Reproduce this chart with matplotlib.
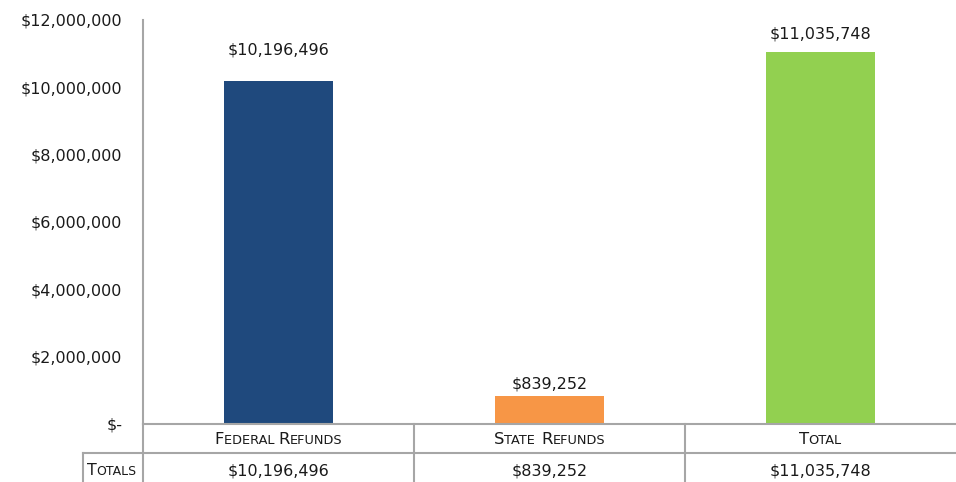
import matplotlib
matplotlib.use('Agg')
import matplotlib.pyplot as plt
from matplotlib.ticker import FuncFormatter
from matplotlib.transforms import blended_transform_factory, offset_copy
from matplotlib.font_manager import findfont, FontProperties
from matplotlib.ft2font import FT2Font
from matplotlib.lines import Line2D

categories = ['Federal Refunds', 'State Refunds', 'Total']
values = [10196496, 839252, 11035748]
colors = ['#1F497D', '#F79646', '#92D050']
label_gap_px = [26, 7, 14]        # gap between bar top and value label
yticks = [0, 2e6, 4e6, 6e6, 8e6, 10e6, 12e6]
row_label = 'Totals'

TXT = '#1a1a1a'
GRID = '#a6a6a6'
FAM = 'DejaVu Sans'

W, H = 956, 482
fig = plt.figure(figsize=(W / 100, H / 100), dpi=100)
ax = fig.add_axes([143 / W, 1 - 424 / H, 1 - 143 / W, (424 - 20) / H])

x = list(range(len(categories)))
ax.bar(x, values, width=0.4, color=colors)
ax.set_xlim(-0.5, 2.5)
ax.set_ylim(0, 12e6)

def money(v, pos=None):
    return '$-' if v == 0 else '${:,.0f}'.format(v)

ax.set_yticks(yticks)
ax.yaxis.set_major_formatter(FuncFormatter(money))
ax.tick_params(axis='y', length=0, pad=15, labelsize=11.5, labelcolor=TXT)
ax.set_xticks([])
for s in ('top', 'right', 'bottom'):
    ax.spines[s].set_visible(False)
ax.spines['left'].set_color(GRID)
ax.spines['left'].set_linewidth(1.5)

for xi, v, gap in zip(x, values, label_gap_px):
    ax.annotate(money(v), (xi, v), xytext=(0, gap * 0.72), textcoords='offset points',
                ha='center', va='baseline', fontsize=11.5, color=TXT, family=FAM)

# ── small caps helper ─────────────────────────────────────────────────────────
_font = FT2Font(findfont(FontProperties(family=FAM)))

def advance(s, size):
    _font.set_size(size, 72)
    w = 0.0
    for c in s:
        g = _font.load_char(ord(c))
        w += g.linearHoriAdvance / 65536
    return w

def smallcaps(xv, yv, s, transform, big=11.8, small=9.3):
    runs = []
    for c in s:
        sz = big if c.isupper() else small
        if runs and runs[-1][1] == sz:
            runs[-1][0] += c.upper()
        else:
            runs.append([c.upper(), sz])
    total = sum(advance(t, sz) for t, sz in runs)
    dx = -total / 2
    for t, sz in runs:
        tr = offset_copy(transform, fig=fig, x=dx, y=0, units='points')
        fig.text(xv, yv, t, transform=tr, fontsize=sz, color=TXT,
                 family=FAM, ha='left', va='baseline')
        dx += advance(t, sz)

# ── table under the axis ──────────────────────────────────────────────────────
bt = blended_transform_factory(ax.transData, fig.transFigure)
ft = fig.transFigure
y_top, y_mid, y_bot = 1 - 424 / H, 1 - 453 / H, 0.0

fig.add_artist(Line2D([143 / W, 1], [y_top, y_top], transform=ft, color=GRID, lw=1.5))
fig.add_artist(Line2D([83 / W, 1], [y_mid, y_mid], transform=ft, color=GRID, lw=1.5))
fig.add_artist(Line2D([143 / W, 143 / W], [y_top, y_bot], transform=ft, color=GRID, lw=1.5))
fig.add_artist(Line2D([83 / W, 83 / W], [y_mid, y_bot], transform=ft, color=GRID, lw=1.5))
for b in (0.5, 1.5):
    fig.add_artist(Line2D([b, b], [y_top, y_bot], transform=bt, color=GRID, lw=1.5))

for xi, cat, v in zip(x, categories, values):
    smallcaps(xi, 1 - 444 / H, cat, bt)
    fig.text(xi, 1 - 475 / H, money(v), transform=bt, ha='center', va='baseline',
             fontsize=11.5, color=TXT, family=FAM)

smallcaps(112 / W, 1 - 475 / H, row_label, ft, big=11.4, small=9.0)

fig.savefig('out.png', dpi=100, facecolor='white')
